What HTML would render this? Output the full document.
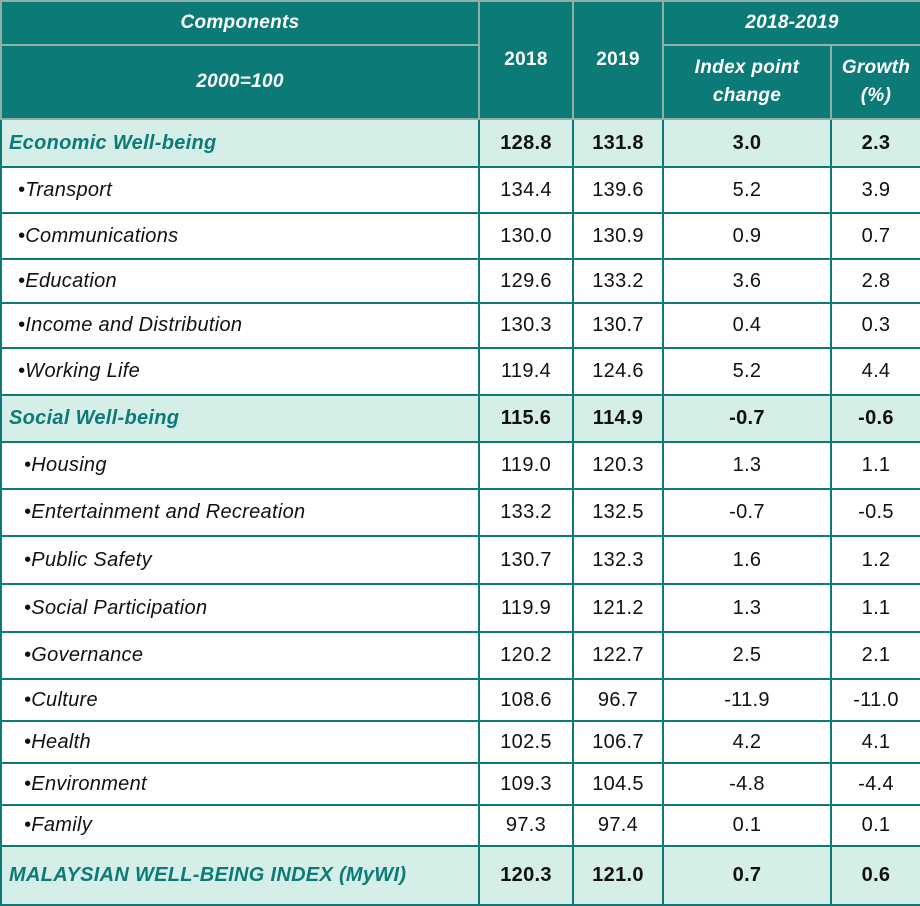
<!DOCTYPE html>
<html><head><style>
body{margin:0;background:#fff;}
table{border-collapse:collapse;table-layout:fixed;width:920px;font-family:"Liberation Sans",Arial,sans-serif;font-size:20px;letter-spacing:0.3px;color:#111;}
td{border:2px solid #0c7a76;padding:0;text-align:center;overflow:hidden;white-space:nowrap;}
tr.h td{background:#0c7a76;color:#fff;font-weight:bold;border-color:#8fb0ab;font-size:19px;}
tr.h td.i{font-style:italic;}
td.l{text-align:left;font-style:italic;padding-left:16px;}
td.l2{padding-left:22px;}
tr.s td{background:#d5efe8;font-weight:bold;}
tr.s td.l{color:#0c7a76;padding-left:7px;}
</style></head><body>
<table>
<col style="width:478px"><col style="width:94px"><col style="width:90px"><col style="width:168px"><col style="width:90px">
<tr class="h" style="height:44px"><td class="i">Components</td><td rowspan="2">2018</td><td rowspan="2">2019</td><td colspan="2" class="i">2018-2019</td></tr>
<tr class="h" style="height:74px"><td class="i">2000=100</td><td class="i" style="line-height:28px">Index point<br>change</td><td class="i" style="line-height:28px">Growth<br>(%)</td></tr>
<tr class="s" style="height:48px"><td class="l">Economic Well-being</td><td>128.8</td><td>131.8</td><td>3.0</td><td>2.3</td></tr>
<tr style="height:46px"><td class="l">•Transport</td><td>134.4</td><td>139.6</td><td>5.2</td><td>3.9</td></tr>
<tr style="height:46px"><td class="l">•Communications</td><td>130.0</td><td>130.9</td><td>0.9</td><td>0.7</td></tr>
<tr style="height:44px"><td class="l">•Education</td><td>129.6</td><td>133.2</td><td>3.6</td><td>2.8</td></tr>
<tr style="height:45px"><td class="l">•Income and Distribution</td><td>130.3</td><td>130.7</td><td>0.4</td><td>0.3</td></tr>
<tr style="height:47px"><td class="l">•Working Life</td><td>119.4</td><td>124.6</td><td>5.2</td><td>4.4</td></tr>
<tr class="s" style="height:47px"><td class="l">Social Well-being</td><td>115.6</td><td>114.9</td><td>-0.7</td><td>-0.6</td></tr>
<tr style="height:47px"><td class="l l2">•Housing</td><td>119.0</td><td>120.3</td><td>1.3</td><td>1.1</td></tr>
<tr style="height:47px"><td class="l l2">•Entertainment and Recreation</td><td>133.2</td><td>132.5</td><td>-0.7</td><td>-0.5</td></tr>
<tr style="height:48px"><td class="l l2">•Public Safety</td><td>130.7</td><td>132.3</td><td>1.6</td><td>1.2</td></tr>
<tr style="height:48px"><td class="l l2">•Social Participation</td><td>119.9</td><td>121.2</td><td>1.3</td><td>1.1</td></tr>
<tr style="height:47px"><td class="l l2">•Governance</td><td>120.2</td><td>122.7</td><td>2.5</td><td>2.1</td></tr>
<tr style="height:42px"><td class="l l2">•Culture</td><td>108.6</td><td>96.7</td><td>-11.9</td><td>-11.0</td></tr>
<tr style="height:42px"><td class="l l2">•Health</td><td>102.5</td><td>106.7</td><td>4.2</td><td>4.1</td></tr>
<tr style="height:42px"><td class="l l2">•Environment</td><td>109.3</td><td>104.5</td><td>-4.8</td><td>-4.4</td></tr>
<tr style="height:41px"><td class="l l2">•Family</td><td>97.3</td><td>97.4</td><td>0.1</td><td>0.1</td></tr>
<tr class="s" style="height:59px"><td class="l">MALAYSIAN WELL-BEING INDEX (MyWI)</td><td>120.3</td><td>121.0</td><td>0.7</td><td>0.6</td></tr>
</table>
</body></html>
